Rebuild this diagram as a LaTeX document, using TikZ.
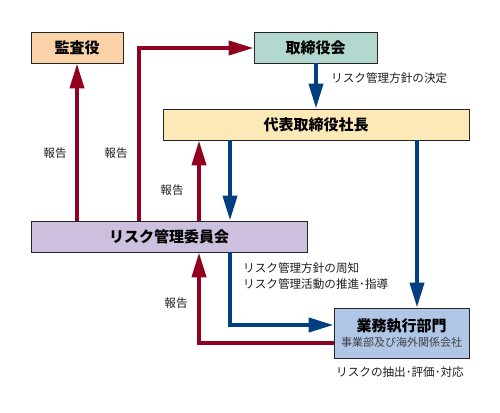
\documentclass[tikz,border=0pt]{standalone}
\usepackage{fontspec}
\setmainfont{Noto Sans CJK JP}
\usetikzlibrary{arrows.meta,calc}
\definecolor{rarrow}{RGB}{146,0,32}
\definecolor{barrow}{RGB}{0,64,128}
\definecolor{cpeach}{RGB}{250,210,168}
\definecolor{cteal}{RGB}{178,216,208}
\definecolor{cyellow}{RGB}{253,233,183}
\definecolor{cpurple}{RGB}{204,192,222}
\definecolor{cblue}{RGB}{176,198,230}
\definecolor{ctext}{RGB}{30,30,30}
\tikzset{
  box/.style={draw=black!85,line width=0.9pt,inner sep=0pt,font=\fontsize{15}{17}\selectfont\bfseries},
  redarr/.style={draw=rarrow,line width=4pt,-{Triangle[length=25pt,width=14pt]}},
  bluearr/.style={draw=barrow,line width=4pt,-{Triangle[length=25pt,width=14pt]}},
  lbl/.style={text=ctext,font=\fontsize{11.6}{16}\selectfont,inner sep=0pt}
}
\begin{document}
\begin{tikzpicture}[x=1pt,y=-1pt]
\useasboundingbox (0,0) rectangle (500,412);
\fill[white] (0,0) rectangle (500,412);
% boxes
\node[box,fill=cpeach,minimum width=92pt,minimum height=31pt] (kansa) at (77,47.5) {監査役};
\node[box,fill=cteal,minimum width=123pt,minimum height=31pt] (tori) at (315.5,47.5) {取締役会};
\node[box,fill=cyellow,minimum width=306pt,minimum height=31pt] (daihyo) at (316,124.5) {代表取締役社長};
\node[box,fill=cpurple,minimum width=276pt,minimum height=31pt] (risk) at (169,236.5) {リスク管理委員会};
\node[box,fill=cblue,minimum width=135pt,minimum height=50pt,align=center] (gyomu) at (401.5,333)
  {業務執行部門\\[-2pt]{\fontsize{11}{13}\selectfont\mdseries\color{black!75}事業部及び海外関係会社}};
% helper coordinates
\coordinate (xa) at (139,0);
\coordinate (xb) at (199,0);
\coordinate (xc) at (230,0);
\coordinate (xd) at (417,0);
\coordinate (ya) at (0,48);
\coordinate (yb) at (0,343);
\coordinate (yc) at (0,325);
% red arrows
\draw[redarr] (risk.north -| kansa) -- (kansa.south);
\draw[redarr] (risk.north -| xa) -- (xa |- ya) -- (tori.west |- ya);
\draw[redarr] (risk.north -| xb) -- (daihyo.south -| xb);
\draw[redarr] (gyomu.west |- yb) -- (xb |- yb) -- (risk.south -| xb);
% blue arrows
\draw[bluearr] (tori.south -| daihyo) -- (daihyo.north);
\draw[bluearr] (daihyo.south -| xc) -- (risk.north -| xc);
\draw[bluearr] (daihyo.south -| xd) -- (gyomu.north -| xd);
\draw[bluearr] (risk.south -| xc) -- (xc |- yc) -- (gyomu.west |- yc);
% labels
\node[lbl] (l1) at (55,153) {報告};
\node[lbl] (l2) at (116,153) {報告};
\node[lbl] (l3) at (172,190) {報告};
\node[lbl] (l4) at (176,303) {報告};
\node[lbl,anchor=west] (l5) at (331,78) {リスク管理方針の決定};
\node[lbl,anchor=west,align=left] (l6) at (243,276) {リスク管理方針の周知\\リスク管理活動の推進･指導};
\node[lbl,anchor=west] (l7) at (336,372) {リスクの抽出･評価･対応};
\end{tikzpicture}
\end{document}
